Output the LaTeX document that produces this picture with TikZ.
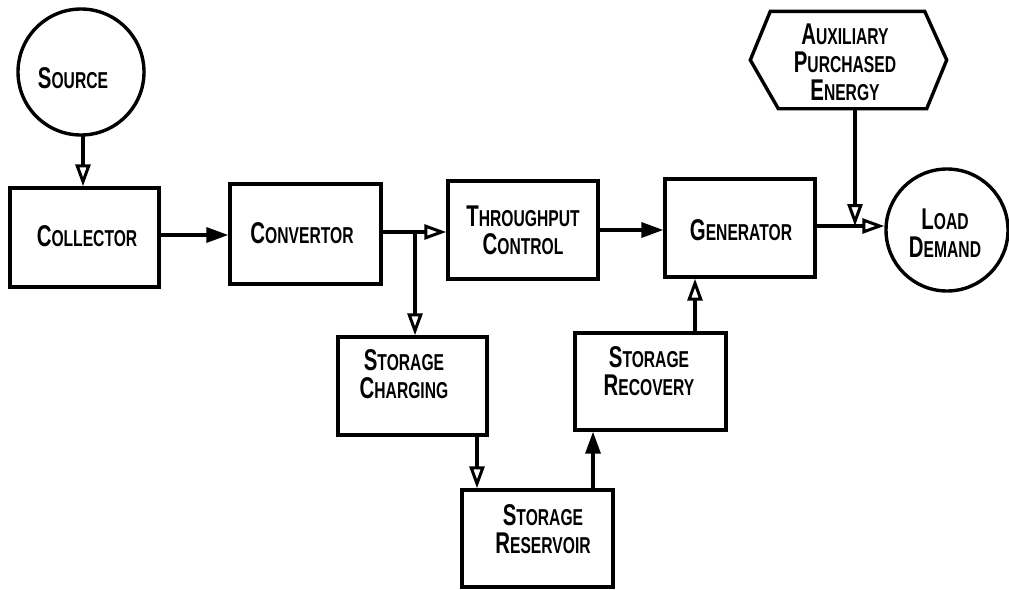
\documentclass[tikz,border=0pt]{standalone}
\usepackage{fontspec}
\setmainfont{Liberation Sans}[FakeStretch=0.68]
\usetikzlibrary{arrows.meta,calc}
\newcommand\Sc[2]{{\fontsize{30}{28}\selectfont #1}#2}
\tikzset{
  boxnode/.style={draw,rectangle,minimum width=150pt,minimum height=98pt,inner sep=0pt},
  circnode/.style={draw,circle,inner sep=0pt},
  txt/.style={font={\fontsize{23}{28}\selectfont\bfseries},align=center,inner sep=0pt},
  openarr/.style={-{Triangle[open,length=22pt,width=15pt,line width=3pt]}},
  fullarr/.style={-{Triangle[length=22pt,width=15pt]}},
}
\begin{document}
\begin{tikzpicture}[x=1pt,y=-1pt,line width=3.4pt]
\useasboundingbox (0,0) rectangle (1009,589);
% shapes
\node[circnode,minimum size=126pt] (source) at (81,72) {};
\node[boxnode,minimum width=149pt,minimum height=99pt] (collector) at (84.5,237.5) {};
\node[boxnode,minimum width=151pt,minimum height=100pt] (convertor) at (305.5,234) {};
\node[boxnode] (throughput) at (523,230) {};
\node[boxnode] (generator) at (740,228) {};
\node[boxnode,minimum width=149pt] (charging) at (412.5,386) {};
\node[boxnode,minimum width=151pt,minimum height=97pt] (recovery) at (650.5,381.5) {};
\node[boxnode,minimum width=151pt,minimum height=97pt] (reservoir) at (537.5,538.5) {};
\node[circnode,minimum size=122pt] (load) at (947,230) {};
\node[minimum width=193pt,minimum height=94pt,inner sep=0pt] (aux) at (848.5,60) {};
\draw[line join=miter] (aux.west) -- ($(aux.north west)+(20,0)$) -- ($(aux.north east)+(-22,0)$)
  -- (aux.east) -- ($(aux.south east)+(-20,0)$) -- ($(aux.south west)+(28,0)$) -- cycle;
% texts
\node[txt] (tsource) at (73,78) {\Sc{S}{OURCE}};
\node[txt] (tcollector) at (87,236) {\Sc{C}{OLLECTOR}};
\node[txt] (tconvertor) at (302,233) {\Sc{C}{ONVERTOR}};
\node[txt] (tthroughput) at (523,230) {\Sc{T}{HROUGHPUT}\\\Sc{C}{ONTROL}};
\node[txt] (tgenerator) at (741,230) {\Sc{G}{ENERATOR}};
\node[txt] (tcharging) at (404,374) {\Sc{S}{TORAGE}\\\Sc{C}{HARGING}};
\node[txt] (trecovery) at (649,371) {\Sc{S}{TORAGE}\\\Sc{R}{ECOVERY}};
\node[txt] (treservoir) at (543,529) {\Sc{S}{TORAGE}\\\Sc{R}{ESERVOIR}};
\node[txt] (tload) at (945,233) {\Sc{L}{OAD}\\\Sc{D}{EMAND}};
\node[txt] (taux) at (845,62) {\Sc{A}{UXILIARY}\\\Sc{P}{URCHASED}\\\Sc{E}{NERGY}};
% connector points
\coordinate (c1) at (83,135);
\coordinate (c2) at (159,235);
\coordinate (c3) at (381,232);
\coordinate (br) at (415,232);
\coordinate (c5) at (477,435);
\coordinate (c6) at (593,490);
\coordinate (c7) at (695,333);
\coordinate (c8) at (815,226);
\coordinate (j) at (855,226);
\coordinate (c9) at (855,107);
% connectors
\draw[openarr] (c1) -- (c1 |- collector.north);
\draw[fullarr] (c2) -- (c2 -| convertor.west);
\draw[openarr] (c3) -- (c3 -| throughput.west);
\draw[openarr] (br) -- (br |- charging.north);
\draw[fullarr] (throughput.east) -- (throughput.east -| generator.west);
\draw[openarr] (c5) -- (c5 |- reservoir.north);
\draw[fullarr] (c6) -- (c6 |- recovery.south);
\draw[openarr] (c7) -- (c7 |- generator.south);
\draw[openarr] (c8) -- (c8 -| load.west);
\draw[openarr] (c9) -- (j);
\end{tikzpicture}
\end{document}
